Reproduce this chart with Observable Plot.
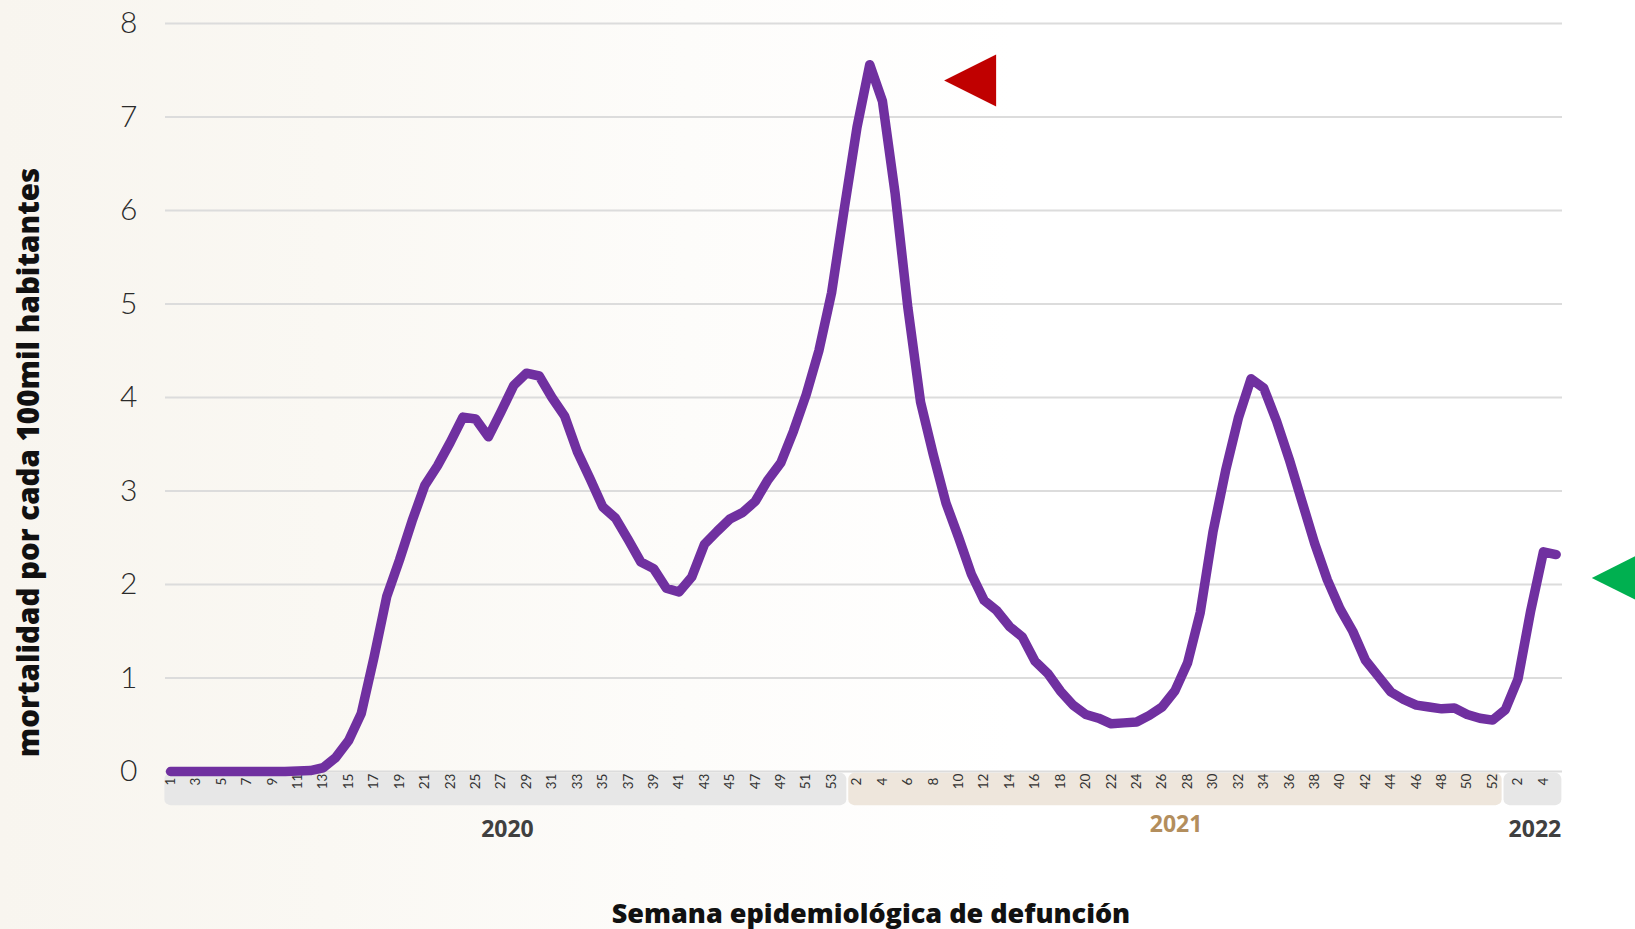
<!DOCTYPE html>
<html>
<head>
<meta charset="utf-8">
<script src="https://cdn.jsdelivr.net/npm/d3@7"></script>
<script src="https://cdn.jsdelivr.net/npm/@observablehq/plot@0.6"></script>
<style>
html, body { margin: 0; padding: 0; overflow: hidden; }
body { width: 1635px; height: 929px; background: linear-gradient(90deg, #f8f5ef 0%, #faf8f3 20%, #fdfcfa 42%, #ffffff 62%); }
#chart svg { display: block; }
</style>
</head>
<body>
<div id="chart"></div>
<script>
// ---- data ----
const weeks2020 = d3.range(1, 54);
const values2020 = [0, 0, 0, 0, 0, 0, 0, 0, 0, 0, 0.005, 0.01, 0.04, 0.15, 0.33, 0.62, 1.22, 1.87, 2.26, 2.68,
  3.06, 3.27, 3.52, 3.79, 3.77, 3.58, 3.85, 4.13, 4.26, 4.23, 4.0, 3.8, 3.42, 3.13, 2.83, 2.71, 2.48, 2.24, 2.17, 1.96,
  1.92, 2.08, 2.43, 2.57, 2.7, 2.77, 2.89, 3.12, 3.3, 3.64, 4.03, 4.5, 5.12];
const weeks2021 = d3.range(1, 53);
const values2021 = [6.02, 6.89, 7.56, 7.17, 6.18, 4.96, 3.95, 3.39, 2.87, 2.5, 2.11, 1.83, 1.72, 1.55, 1.44, 1.18, 1.05, 0.86, 0.71, 0.61,
  0.57, 0.51, 0.52, 0.53, 0.6, 0.69, 0.86, 1.16, 1.7, 2.56, 3.22, 3.78, 4.2, 4.1, 3.75, 3.34, 2.89, 2.44, 2.05, 1.74,
  1.5, 1.19, 1.02, 0.85, 0.77, 0.71, 0.69, 0.67, 0.68, 0.61, 0.57, 0.55];
const weeks2022 = [1, 2, 3, 4, 5];
const values2022 = [0.66, 0.99, 1.72, 2.35, 2.32];

const tickLabels2020 = d3.range(1, 54, 2);
const tickLabels2021 = d3.range(2, 53, 2);
const tickLabels2022 = [2, 4];
const yTicks = [0, 1, 2, 3, 4, 5, 6, 7, 8];
const years = ["2020", "2021", "2022"];
const yLabel = "mortalidad por cada 100mil habitantes";
const xLabel = "Semana epidemiológica de defunción";
// marker annotations (data units: week index, rate)
const peakMarker = [{i: 62.9, v: 7.39}];
const currentMarker = [{i: 113.85, v: 2.07}];

// ---- build table ----
const offsets = {"2020": 0, "2021": 53, "2022": 105};
const series = [
  ...weeks2020.map((w, k) => ({i: offsets["2020"] + w - 1, v: values2020[k]})),
  ...weeks2021.map((w, k) => ({i: offsets["2021"] + w - 1, v: values2021[k]})),
  ...weeks2022.map((w, k) => ({i: offsets["2022"] + w - 1, v: values2022[k]}))
];
const ticks = [
  ...tickLabels2020.map(w => ({i: offsets["2020"] + w - 1, label: String(w)})),
  ...tickLabels2021.map(w => ({i: offsets["2021"] + w - 1, label: String(w)})),
  ...tickLabels2022.map(w => ({i: offsets["2022"] + w - 1, label: String(w)}))
];

const leftTriangle = {
  draw(ctx, size) {
    const r = Math.sqrt(size / Math.PI);
    ctx.moveTo(-r, 0);
    ctx.lineTo(r, -r);
    ctx.lineTo(r, r);
    ctx.closePath();
  }
};

const font = "Lato, 'Noto Sans', sans-serif";
const boldFont = "'Open Sans', 'Noto Sans', sans-serif";

const chart = Plot.plot({
  width: 1635,
  height: 929,
  marginLeft: 165,
  marginRight: 73,
  marginTop: 23,
  marginBottom: 158,
  style: {background: "transparent", overflow: "visible"},
  x: {domain: [-0.4, 109.5], axis: null},
  y: {domain: [0, 8], axis: null},
  marks: [
    // grid
    Plot.ruleY(yTicks, {stroke: "#dcdcdc", strokeWidth: 2}),
    // year bands under the axis
    Plot.rect([years[0]], {x1: -0.45, x2: 53.2, y1: -0.02, y2: -0.365, fill: "#e7e7e7", rx: 6}),
    Plot.rect([years[1]], {x1: 53.35, x2: 104.75, y1: -0.02, y2: -0.365, fill: "#eee6dc", rx: 6}),
    Plot.rect([years[2]], {x1: 104.9, x2: 109.45, y1: -0.02, y2: -0.365, fill: "#e7e7e7", rx: 6}),
    // week tick labels
    Plot.text(ticks, {x: "i", y: -0.107, text: "label", rotate: -90,
      fontSize: 13.5, fill: "#333", fontFamily: font, textAnchor: "middle"}),
    // y tick labels
    Plot.text(yTicks, {y: d => d, text: d => String(d), frameAnchor: "left", dx: -28, textAnchor: "end",
      fontSize: 30, fill: "#2a2a2a", fontFamily: font, fontWeight: 300}),
    // year labels
    Plot.text([years[0]], {x: 26.5, text: d => d, frameAnchor: "bottom", dy: 65, fontSize: 23, fontWeight: 700, fill: "#404040", fontFamily: boldFont}),
    Plot.text([years[1]], {x: 79.1, text: d => d, frameAnchor: "bottom", dy: 60, fontSize: 23, fontWeight: 700, fill: "#b38e5d", fontFamily: boldFont}),
    Plot.text([years[2]], {x: 109.4, text: d => d, frameAnchor: "bottom", dy: 65, textAnchor: "end", fontSize: 23, fontWeight: 700, fill: "#404040", fontFamily: boldFont}),
    // axis titles
    Plot.text([xLabel], {x: 55.1, text: d => d, frameAnchor: "bottom", dy: 151.5, fontSize: 27, fontWeight: 800, fill: "#111", fontFamily: boldFont}),
    Plot.text([yLabel], {x: -11.09, y: 3.305, text: d => d, rotate: -90, textAnchor: "middle", fontSize: 29.5, fontWeight: 800, fill: "#111", fontFamily: boldFont}),
    // series line
    Plot.line(series, {x: "i", y: "v", stroke: "#7030a0", strokeWidth: 9.5, strokeLinejoin: "round", strokeLinecap: "round"}),
    // markers
    Plot.dot(peakMarker, {x: "i", y: "v", symbol: leftTriangle, r: 26, fill: "#c00000", stroke: "none"}),
    Plot.dot(currentMarker, {x: "i", y: "v", symbol: leftTriangle, r: 26, fill: "#00b050", stroke: "none"})
  ]
});
document.getElementById("chart").appendChild(chart);
</script>
</body>
</html>
